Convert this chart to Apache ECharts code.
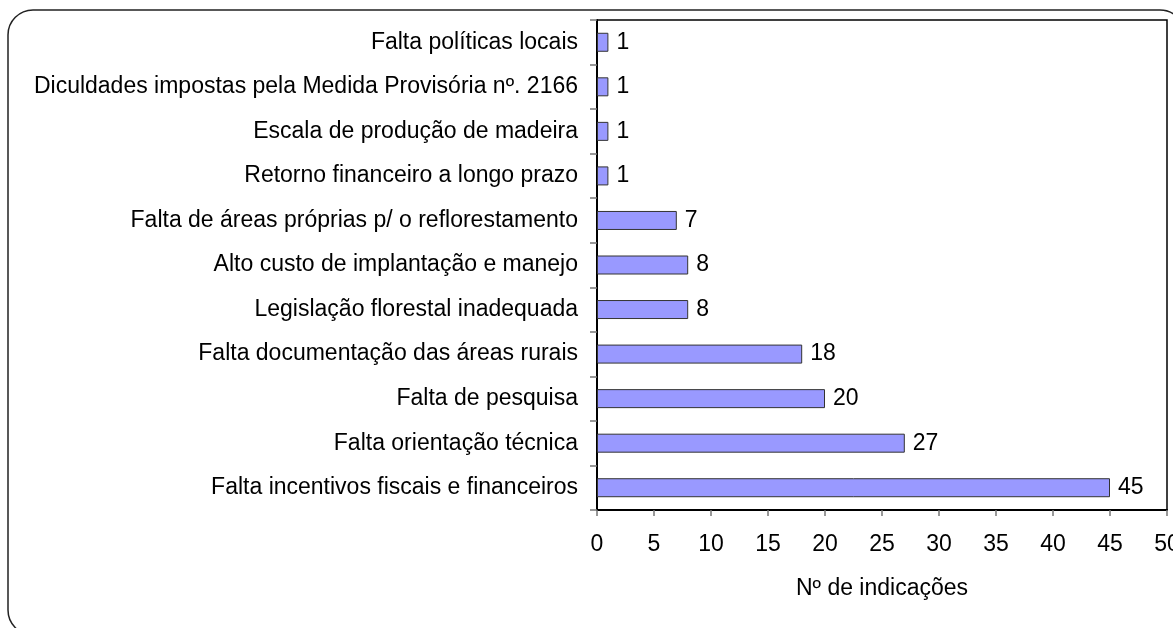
<!DOCTYPE html>
<html>
<head>
<meta charset="utf-8">
<script src="https://cdn.jsdelivr.net/npm/echarts@6/dist/echarts.min.js"></script>
<style>
html,body{margin:0;padding:0;background:#fff;}
#c{width:1173px;height:628px;}
</style>
</head>
<body>
<div id="c"></div>
<script>
const categories = [
  "Falta políticas locais",
  "Diculdades impostas pela Medida Provisória nº. 2166",
  "Escala de produção de madeira",
  "Retorno financeiro a longo prazo",
  "Falta de áreas próprias p/ o reflorestamento",
  "Alto custo de implantação e manejo",
  "Legislação florestal inadequada",
  "Falta documentação das áreas rurais",
  "Falta de pesquisa",
  "Falta orientação técnica",
  "Falta incentivos fiscais e financeiros"
];
const values = [1, 1, 1, 1, 7, 8, 8, 18, 20, 27, 45];
const xAxisName = "Nº de indicações";

const FONT = "'Liberation Sans', Arial, sans-serif";
const chart = echarts.init(document.getElementById('c'), null, {renderer: 'canvas'});
chart.setOption({
  backgroundColor: '#fff',
  animation: false,
  graphic: [{
    type: 'rect',
    shape: {x: 8, y: 10, width: 1177, height: 625, r: 25},
    style: {fill: 'none', stroke: '#222', lineWidth: 1.5},
    z: -1
  }],
  grid: {
    left: 597, right: 6, top: 20, bottom: 118,
    outerBoundsMode: 'none',
    containLabel: false,
    show: true, borderColor: '#000', borderWidth: 1.5, backgroundColor: 'transparent'
  },
  xAxis: {
    type: 'value', min: 0, max: 50, interval: 5,
    name: xAxisName, nameLocation: 'middle', nameGap: 67,
    nameTextStyle: {fontFamily: FONT, fontSize: 23, color: '#000'},
    axisLine: {show: true, lineStyle: {color: '#000', width: 2}},
    axisTick: {show: true, length: 6, lineStyle: {color: '#777', width: 1.5}},
    axisLabel: {fontFamily: FONT, fontSize: 23, color: '#000', margin: 23, hideOverlap: false},
    splitLine: {show: false}
  },
  yAxis: {
    type: 'category', inverse: true, data: categories,
    axisLine: {show: true, lineStyle: {color: '#000', width: 2}},
    axisTick: {show: true, length: 7, lineStyle: {color: '#777', width: 1.5}},
    axisLabel: {fontFamily: FONT, fontSize: 23, color: '#000', margin: 19},
    splitLine: {show: false}
  },
  series: [{
    type: 'bar',
    data: values,
    barWidth: 19,
    itemStyle: {color: '#9999FF', borderColor: '#333', borderWidth: 1},
    label: {show: true, position: 'right', distance: 8, fontFamily: FONT, fontSize: 23, color: '#000'}
  }]
});
</script>
</body>
</html>
